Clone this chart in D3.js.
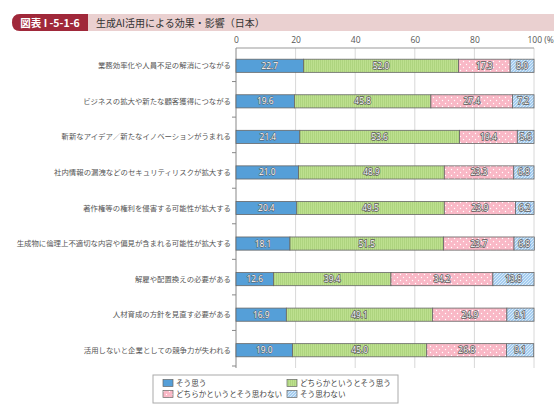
<!DOCTYPE html>
<html><head><meta charset="utf-8">
<script src="https://cdn.jsdelivr.net/npm/d3@7"></script>
<style>
html,body{margin:0;padding:0;background:#fff;}
svg{display:block;font-family:"Noto Sans CJK JP","Noto Sans",sans-serif;}
</style></head>
<body><svg id="c" width="554" height="404"></svg>
<script>
const categories = [
  "業務効率化や人員不足の解消につながる",
  "ビジネスの拡大や新たな顧客獲得につながる",
  "斬新なアイデア／新たなイノベーションがうまれる",
  "社内情報の漏洩などのセキュリティリスクが拡大する",
  "著作権等の権利を侵害する可能性が拡大する",
  "生成物に倫理上不適切な内容や偏見が含まれる可能性が拡大する",
  "解雇や配置換えの必要がある",
  "人材育成の方針を見直す必要がある",
  "活用しないと企業としての競争力が失われる"
];
const seriesNames = ["そう思う","どちらかというとそう思う","どちらかというとそう思わない","そう思わない"];
const agree        = [22.7,19.6,21.4,21.0,20.4,18.1,12.6,16.9,19.0];
const somewhatAgree= [52.0,45.8,53.6,48.9,49.5,51.5,39.4,49.1,45.0];
const somewhatNot  = [17.3,27.4,19.4,23.3,23.9,23.7,34.2,24.9,26.8];
const disagree     = [8.0,7.2,5.6,6.8,6.2,6.8,13.8,9.1,9.1];
const xTicks = [0,20,40,60,80,100];
const title = "生成AI活用による効果・影響（日本）";
const figLabel = "図表 I -5-1-6";

const series = [agree, somewhatAgree, somewhatNot, disagree];
const svg = d3.select("#c");
const defs = svg.append("defs");

// patterns
const pG = defs.append("pattern").attr("id","pg").attr("patternUnits","userSpaceOnUse").attr("width",2).attr("height",4);
pG.append("rect").attr("width",2).attr("height",4).attr("fill","#bde08f");
pG.append("rect").attr("width",1).attr("height",4).attr("fill","#aed47f");
const pP = defs.append("pattern").attr("id","pp").attr("patternUnits","userSpaceOnUse").attr("width",6).attr("height",6);
pP.append("rect").attr("width",6).attr("height",6).attr("fill","#f9b8c6");
pP.append("circle").attr("cx",1.5).attr("cy",1.5).attr("r",0.7).attr("fill","#fff");
pP.append("circle").attr("cx",4.5).attr("cy",4.5).attr("r",0.7).attr("fill","#fff");
const pB = defs.append("pattern").attr("id","pb").attr("patternUnits","userSpaceOnUse").attr("width",3).attr("height",3);
pB.append("rect").attr("width",3).attr("height",3).attr("fill","#a6cdef");
pB.append("path").attr("d","M0,3 L3,0 M-1,1 L1,-1 M2,4 L4,2").attr("stroke","#e4f1fb").attr("stroke-width",0.8);

const fills = ["#559fd8","url(#pg)","url(#pp)","url(#pb)"];

// header
svg.append("path").attr("d","M20,14 H554 V31 H20 Q12,31 12,22.5 Q12,14 20,14 Z").attr("fill","#ead0d0");
svg.append("path").attr("d","M20,14 H88 V31 H20 Q12,31 12,22.5 Q12,14 20,14 Z").attr("fill","#a0283a");
svg.append("text").attr("x",50).attr("y",26.5).attr("text-anchor","middle").attr("fill","#fff")
  .attr("font-size",10.5).attr("font-weight","bold").text(figLabel);
svg.append("text").attr("x",96).attr("y",27).attr("fill","#333").attr("font-size",10).text(title);

// scales
const x = d3.scaleLinear().domain([0,100]).range([236,534]);
const y = d3.scaleBand().domain(categories).range([48,368]).paddingInner(0.63).paddingOuter(0.315);
const step = y.step();

// grid
svg.append("g").selectAll("line").data(xTicks.slice(1)).join("line")
  .attr("x1",d=>x(d)).attr("x2",d=>x(d)).attr("y1",48).attr("y2",368)
  .attr("stroke","#d8d8d8").attr("stroke-width",1);
svg.append("line").attr("x1",236).attr("x2",534).attr("y1",48).attr("y2",48).attr("stroke","#999");

// top axis labels
const xa = svg.append("g").attr("transform","translate(0,48)")
  .call(d3.axisTop(x).tickValues(xTicks).tickSize(0).tickPadding(3).tickFormat(d=>d===100?"100 (%)":d));
xa.select(".domain").remove();
xa.selectAll("text").style("font-size","8.5px").attr("fill","#555").style("font-family","'Open Sans','Noto Sans',sans-serif").attr("dy","-0.2em");
xa.selectAll(".tick").filter(d=>d===100).select("text").attr("text-anchor","start").attr("dx",-7);

// left axis
svg.append("line").attr("x1",236).attr("x2",236).attr("y1",48).attr("y2",368).attr("stroke","#888");
svg.append("g").selectAll("line").data(d3.range(1,categories.length+1)).join("line")
  .attr("x1",232).attr("x2",236).attr("y1",i=>48+i*step-2).attr("y2",i=>48+i*step-2)
  .attr("stroke","#888");
svg.append("g").selectAll("text").data(categories).join("text")
  .attr("x",231).attr("y",d=>y(d)+y.bandwidth()/2).attr("dy","0.35em").attr("text-anchor","end")
  .attr("font-size",7.4).attr("fill","#555").text(d=>d);

// bars
const stackData = categories.map((c,i)=>{
  let acc=0;
  return series.map((s,k)=>{const v=s[i]; const r={c,k,v,x0:acc,x1:acc+v}; acc+=v; return r;});
});
const rows = svg.append("g").selectAll("g").data(stackData).join("g");
rows.selectAll("rect").data(d=>d).join("rect")
  .attr("x",d=>x(d.x0)).attr("width",d=>x(d.x1)-x(d.x0))
  .attr("y",d=>y(d.c)).attr("height",y.bandwidth())
  .attr("fill",d=>fills[d.k]).attr("stroke","#666").attr("stroke-width",0.8);
rows.selectAll("text").data(d=>d).join("text")
  .attr("x",d=>(x(d.x0)+x(d.x1))/2).attr("y",d=>y(d.c)+y.bandwidth()/2).attr("dy","0.36em")
  .attr("text-anchor","middle").attr("font-size",8.4).attr("font-family","'Open Sans','Noto Sans',sans-serif")
  .attr("fill","#fff").attr("stroke",d=>d.k===0?"#555":"#5a5a5a").attr("stroke-width",d=>d.k===0?0.9:1.4)
  .attr("paint-order","stroke")
  .text(d=>d.v.toFixed(1));

// legend
const lg = svg.append("g");
lg.append("rect").attr("x",153).attr("y",375).attr("width",245).attr("height",28).attr("fill","#fff").attr("stroke","#aaa");
const lpos = [[163,379.5],[287,379.5],[163,390.5],[287,390.5]];
seriesNames.forEach((n,k)=>{
  lg.append("rect").attr("x",lpos[k][0]).attr("y",lpos[k][1]).attr("width",10).attr("height",7)
    .attr("fill",fills[k]).attr("stroke","#666").attr("stroke-width",0.7);
  lg.append("text").attr("x",lpos[k][0]+13).attr("y",lpos[k][1]+3.5).attr("dy","0.35em")
    .attr("font-size",7.6).attr("fill","#444").text(n);
});
</script></body></html>
